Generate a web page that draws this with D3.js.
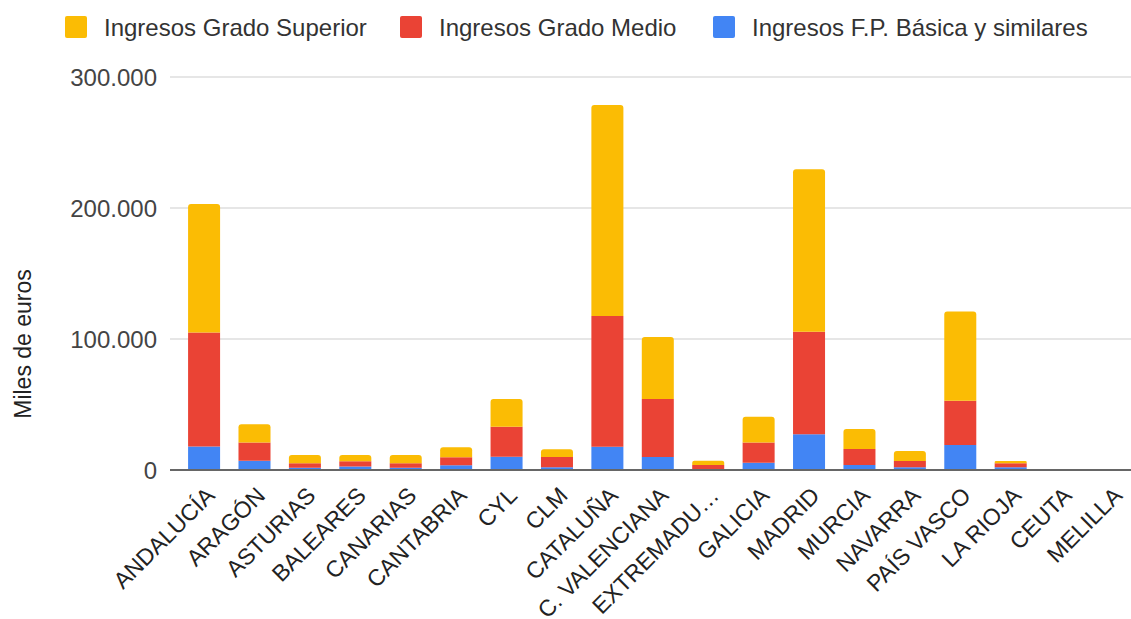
<!DOCTYPE html>
<html>
<head>
<meta charset="utf-8">
<script src="https://cdn.jsdelivr.net/npm/d3@7"></script>
<style>
body { margin: 0; background: #fff; }
text { font-family: "Liberation Sans", Arial, sans-serif; fill: #222; }
</style>
</head>
<body>
<svg id="chart" width="1131" height="619"></svg>
<script>
// categories and stacked series (miles de euros)
const regions = ["ANDALUCÍA", "ARAGÓN", "ASTURIAS", "BALEARES", "CANARIAS", "CANTABRIA", "CYL", "CLM",
    "CATALUÑA", "C. VALENCIANA", "EXTREMADURA", "GALICIA", "MADRID", "MURCIA", "NAVARRA", "PAÍS VASCO",
    "LA RIOJA", "CEUTA", "MELILLA"];
const basica   = [18000, 7000, 1800, 2700, 1800, 3600, 10200, 2100, 17800, 9900, 800, 5600, 27200, 3800, 2100, 19100, 2100, 0, 0];
const medio    = [87000, 14000, 3400, 3900, 3400, 6100, 22800, 7800, 99800, 44300, 3000, 15300, 78400, 12200, 4800, 33800, 3000, 0, 0];
const superior = [98000, 14000, 6300, 4900, 6300, 7600, 21200, 5900, 161000, 47300, 3300, 19800, 123900, 15300, 7600, 68000, 1800, 0, 0];
const yTicks = [0, 100000, 200000, 300000];
const seriesNames = ["Ingresos Grado Superior", "Ingresos Grado Medio", "Ingresos F.P. Básica y similares"];
const colors = {basica: "#4285f4", medio: "#ea4335", superior: "#fbbc04"};

const svg = d3.select("#chart");
const plotLeft = 170, plotRight = 1131, plotTop = 77, plotBottom = 470;

const data = regions.map(function(r, i) {
    return {region: r, basica: basica[i], medio: medio[i], superior: superior[i]};
});

const x = d3.scaleBand()
    .domain(regions)
    .range([179, 179 + 50.4 * regions.length])
    .paddingInner(0.365)
    .paddingOuter(0.18);

const y = d3.scaleLinear()
    .domain([0, 300000])
    .range([plotBottom, plotTop]);

// gridlines
svg.append("g")
    .selectAll("line")
    .data(yTicks.filter(function(d) { return d > 0; }))
    .enter()
    .append("line")
        .attr("x1", plotLeft)
        .attr("x2", plotRight)
        .attr("y1", function(d) { return y(d); })
        .attr("y2", function(d) { return y(d); })
        .attr("stroke", "#dedede")
        .attr("stroke-width", 1.5);

// y tick labels
const fmt = function(d) { return d3.format(",")(d).replace(/,/g, "."); };
svg.append("g")
    .selectAll("text")
    .data(yTicks)
    .enter()
    .append("text")
        .attr("x", 157)
        .attr("y", function(d) { return y(d); })
        .attr("dy", "0.36em")
        .attr("text-anchor", "end")
        .attr("font-size", 24)
        .style("fill", "#444")
        .text(fmt);

// y axis title
svg.append("text")
    .attr("transform", "translate(31,344) rotate(-90)")
    .attr("text-anchor", "middle")
    .attr("font-size", 23)
    .text("Miles de euros");

// stacked bars
const keys = ["basica", "medio", "superior"];
const stack = d3.stack().keys(keys)(data);

stack.forEach(function(layer) {
    const g = svg.append("g").attr("fill", colors[layer.key]);
    g.selectAll("path")
        .data(layer.filter(function(d) { return d[1] - d[0] > 0; }))
        .enter()
        .append("path")
            .attr("d", function(d) {
                const x0 = x(d.data.region), w = x.bandwidth();
                const y0 = y(d[0]), y1 = y(d[1]);
                const r = layer.key === "superior" ? Math.min(3, (y0 - y1) / 2) : 0;
                return "M" + x0 + "," + y0 +
                    "V" + (y1 + r) +
                    "Q" + x0 + "," + y1 + " " + (x0 + r) + "," + y1 +
                    "H" + (x0 + w - r) +
                    "Q" + (x0 + w) + "," + y1 + " " + (x0 + w) + "," + (y1 + r) +
                    "V" + y0 + "Z";
            });
});

// baseline
svg.append("line")
    .attr("x1", plotLeft)
    .attr("x2", plotRight)
    .attr("y1", y(0))
    .attr("y2", y(0))
    .attr("stroke", "#666")
    .attr("stroke-width", 2);

// x labels
svg.append("g")
    .selectAll("text")
    .data(regions)
    .enter()
    .append("text")
        .attr("transform", function(d) {
            return "translate(" + (x(d) + x.bandwidth() / 2 + 12) + "," + 497 + ") rotate(-45)";
        })
        .attr("text-anchor", "end")
        .attr("font-size", 23)
        .text(function(d) { return d === "EXTREMADURA" ? "EXTREMADU…" : d; });

// legend
const legendX = [65, 400, 713];
const legendColors = [colors.superior, colors.medio, colors.basica];
const legend = svg.append("g")
    .selectAll("g")
    .data(seriesNames)
    .enter()
    .append("g")
        .attr("transform", function(d, i) { return "translate(" + legendX[i] + ",16)"; });
legend.append("rect")
    .attr("width", 22)
    .attr("height", 22)
    .attr("rx", 2)
    .attr("fill", function(d, i) { return legendColors[i]; });
legend.append("text")
    .attr("x", 39)
    .attr("y", 11)
    .attr("dy", "0.36em")
    .attr("font-size", 24)
    .style("fill", "#333")
    .text(function(d) { return d; });
</script>
</body>
</html>
